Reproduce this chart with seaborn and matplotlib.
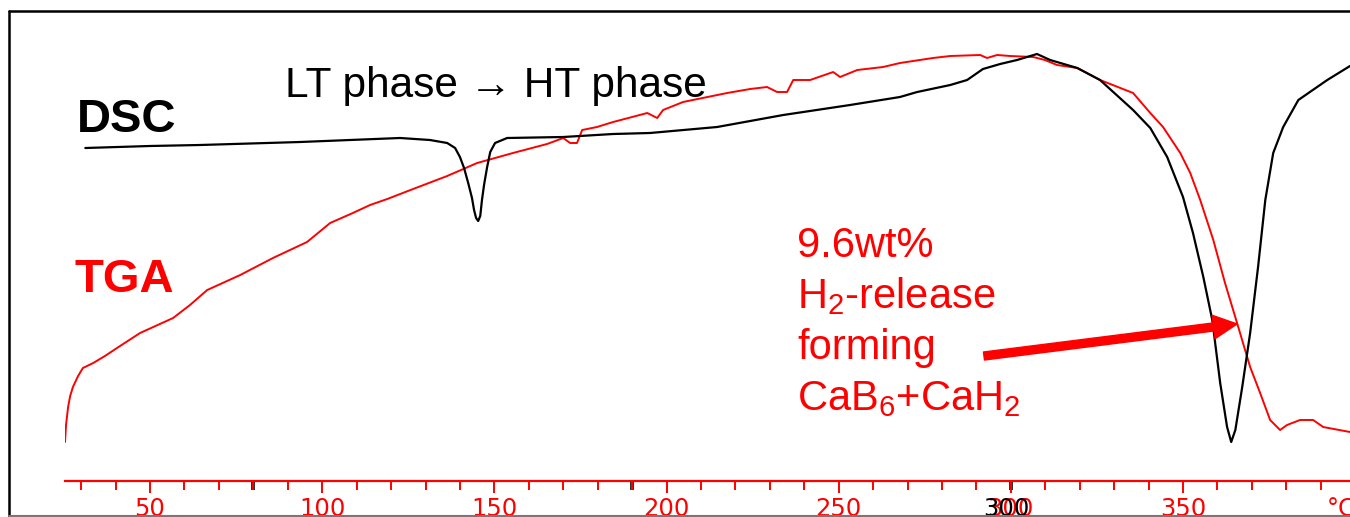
import pandas as pd
import seaborn as sns
import matplotlib.pyplot as plt
from matplotlib.lines import Line2D
from matplotlib.ticker import MultipleLocator

# DSC trace (temperature in C, signal in arbitrary units above the baseline)
dsc_temp = [31.2, 50.0, 64.5, 79.1, 93.6, 108.1, 122.6, 131.3, 136.3, 138.6, 140.0, 141.2,
            142.4, 143.5, 144.1, 144.7, 145.3, 145.9, 146.4, 147.0, 147.9, 148.8, 150.2,
            153.7, 170.0, 184.5, 195.2, 214.7, 233.9, 253.3, 267.8, 272.8, 282.4, 287.3,
            291.9, 296.9, 301.8, 307.6, 311.4, 319.3, 325.9, 335.5, 340.5, 345.4, 350.0,
            352.9, 355.9, 358.5, 360.8, 362.8, 364.0, 365.2, 367.2, 369.5, 371.8, 373.9,
            376.2, 379.1, 383.5, 391.9, 398.5]
dsc_signal = [333, 335, 336, 337.5, 339, 341, 343, 341, 338, 333, 324, 313,
              298, 283, 271, 263, 260, 265, 281, 296, 314, 329, 338,
              343, 344, 347, 348, 354, 366, 376, 384, 389, 396, 401,
              412, 417, 421, 427, 421, 413, 401, 371, 353, 324, 284,
              248, 204, 161, 98, 54, 39, 51, 94, 148, 214, 281,
              328, 354, 381, 401, 415]

# TGA trace
tga_temp = [25.3, 25.6, 26.2, 26.8, 27.6, 29.1, 30.5, 33.5, 36.9, 40.4, 47.1, 56.7, 61.6,
            66.6, 76.2, 85.7, 95.6, 102.3, 108.9, 113.9, 118.9, 126.4, 136.3, 145.0, 155.4,
            165.3, 170.0, 172.0, 174.0, 175.5, 179.8, 184.5, 194.4, 197.3, 199.0, 204.8,
            217.6, 224.3, 229.2, 232.1, 235.0, 236.8, 241.7, 248.4, 250.4, 255.4, 262.9,
            267.8, 277.4, 282.4, 291.1, 293.1, 296.0, 299.8, 306.5, 309.9, 313.4, 319.3,
            325.9, 335.5, 340.5, 344.2, 349.2, 352.1, 355.0, 358.8, 362.2, 365.7, 369.5,
            372.4, 375.3, 378.2, 380.2, 384.0, 387.8, 390.7, 398.5]
tga_signal = [39, 56, 74, 85, 94, 105, 113, 118, 125, 133, 148, 163, 176,
              191, 206, 223, 239, 258, 268, 276, 282, 292, 305, 318, 328,
              337, 343, 338, 338, 351, 354, 359, 368, 363, 371, 379,
              388, 392, 394, 389, 389, 401, 401, 409, 404, 411, 414,
              418, 423, 425, 426, 423, 426, 425, 424, 421, 416, 413,
              401, 388, 368, 354, 328, 308, 281, 241, 198, 158, 114,
              88, 61, 51, 56, 61, 61, 54, 49]

major_ticks = [50, 100, 150, 200, 250, 300, 350]
major_labels = ['50', '100', '150', '200', '250', '300', '350']
black_ticks = [80, 190, 300]

sns.set_style("white")
plt.rcParams['font.family'] = ['Liberation Sans', 'DejaVu Sans']
plt.rcParams['mathtext.fontset'] = 'custom'
plt.rcParams['mathtext.rm'] = 'Liberation Sans'
plt.rcParams['mathtext.it'] = 'Liberation Sans:italic'

fig = plt.figure(figsize=(13.5, 5.17), dpi=100)
ax = fig.add_axes([65 / 1350, 36 / 517, 1 - 65 / 1350, 470 / 517])

dsc = pd.DataFrame({'T': dsc_temp, 'signal': dsc_signal})
tga = pd.DataFrame({'T': tga_temp, 'signal': tga_signal})
sns.lineplot(data=tga, x='T', y='signal', sort=False, estimator=None, color='#ff0000', lw=1.4, ax=ax)
sns.lineplot(data=dsc, x='T', y='signal', sort=False, estimator=None, color='black', lw=1.6, ax=ax)

ax.set_xlim(25.3, 398.5)
ax.set_ylim(0, 470)
ax.set_xlabel('')
ax.set_ylabel('')
ax.set_yticks([])
for s in ['left', 'right', 'top']:
    ax.spines[s].set_visible(False)
ax.spines['bottom'].set_color('#ff0000')
ax.spines['bottom'].set_linewidth(1.6)

ax.set_xticks(major_ticks, labels=major_labels, fontsize=17.5, family='DejaVu Sans')
ax.xaxis.set_minor_locator(MultipleLocator(10))
ax.tick_params(axis='x', which='major', bottom=True, direction='out', length=8.6, width=1.4,
               colors='#ff0000', pad=3)
ax.tick_params(axis='x', which='minor', bottom=True, direction='out', length=6.2, width=1.4,
               colors='#ff0000')

# second (black) scale sharing the bottom line
sec = ax.secondary_xaxis('bottom')
sec.set_xticks(black_ticks)
sec.set_xticklabels(['', '', ''])
sec.tick_params(axis='x', bottom=True, length=6.5, width=2.6, colors='black')
sec.spines['bottom'].set_visible(False)
ax.annotate('300', xy=(300, 0), xycoords=('data', 'axes fraction'), xytext=(-3, -11.6),
            textcoords='offset points', ha='center', va='top', color='black',
            fontsize=17.5, family='DejaVu Sans', zorder=1)
ax.annotate('°C', xy=(396, 0), xycoords=('data', 'axes fraction'), xytext=(0, -11.6),
            textcoords='offset points', ha='center', va='top', color='#ff0000',
            fontsize=17.5, family='DejaVu Sans', annotation_clip=False)

# labels and annotations
ax.text(28.8, 349, 'DSC', fontsize=34, fontweight='bold', color='black', va='baseline')
ax.text(28.2, 189, 'TGA', fontsize=34, fontweight='bold', color='#ff0000', va='baseline')
ax.text(89.2, 384, 'LT phase \u2192 HT phase', fontsize=30.5, color='black', va='baseline')

red_lines = ['9.6wt%', 'H$_2$-release', 'forming', 'CaB$_6$+CaH$_2$']
red_base = [224, 173, 122, 71]
for txt, yb in zip(red_lines, red_base):
    ax.text(237.9, yb, txt, fontsize=30, color='#ff0000', va='baseline')

ax.annotate('', xy=(365.7, 157), xytext=(292.2, 125),
            arrowprops=dict(facecolor='#ff0000', edgecolor='#ff0000', width=5.8,
                            headwidth=17, headlength=17, shrink=0))

# outer frame
fig.add_artist(Line2D([9 / 1350, 9 / 1350], [0, 506 / 517], color='black', lw=1.8))
fig.add_artist(Line2D([9 / 1350, 1], [506 / 517, 506 / 517], color='black', lw=1.8))
fig.add_artist(Line2D([9 / 1350, 1], [1 / 517, 1 / 517], color='#777777', lw=1.5))

fig.savefig('out.png', dpi=100)
